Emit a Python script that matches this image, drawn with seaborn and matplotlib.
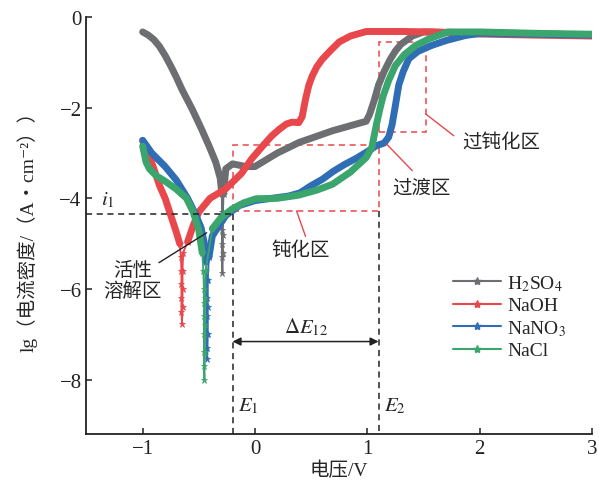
import numpy as np
import matplotlib
matplotlib.use('Agg')
import matplotlib.pyplot as plt
import seaborn as sns
from matplotlib.lines import Line2D
from matplotlib.patches import Rectangle

# polarization curves, potential (V) and lg(current density)
h2so4_v = [-1.0, -0.95, -0.9, -0.85, -0.8, -0.75, -0.7, -0.65, -0.56, -0.48, -0.41, -0.35, -0.31, -0.295,
           -0.295, -0.295, -0.295, -0.295, -0.29, -0.285, -0.285, -0.285, -0.28, -0.26, -0.2,
           -0.08, 0.0, 0.1, 0.2, 0.3, 0.39, 0.69, 0.99, 1.02, 1.06, 1.1, 1.15, 1.2, 1.25,
           1.3, 1.4, 1.5, 2.0, 2.5, 3.0]
h2so4_lg = [-0.33, -0.4, -0.5, -0.65, -0.85, -1.08, -1.33, -1.6, -2.03, -2.45, -2.84, -3.2, -3.55, -3.9,
            -4.3, -4.7, -5.0, -5.3, -5.65, -5.2, -4.8, -4.3, -3.9, -3.35, -3.24,
            -3.3, -3.3, -3.15, -3.0, -2.88, -2.77, -2.51, -2.3, -2.15, -1.85, -1.5, -1.2, -0.95, -0.75,
            -0.6, -0.42, -0.33, -0.35, -0.37, -0.4]

naoh_v = [-1.0, -0.95, -0.9, -0.85, -0.8, -0.74, -0.7, -0.67, -0.66, -0.655, -0.655, -0.655,
          -0.655, -0.65, -0.645, -0.645, -0.645, -0.64, -0.6, -0.55, -0.5, -0.4, -0.26, -0.12,
          -0.03, 0.06, 0.15, 0.22, 0.28, 0.33, 0.39, 0.42, 0.45, 0.48, 0.51, 0.55, 0.6, 0.68,
          0.75, 0.85, 0.99, 1.3, 1.58, 1.88, 2.5, 3.0]
naoh_lg = [-2.73, -3.0, -3.35, -3.72, -4.0, -4.45, -4.75, -5.0, -5.3, -5.6, -5.9, -6.2,
           -6.5, -6.77, -6.4, -6.0, -5.6, -5.2, -4.96, -4.6, -4.3, -4.0, -3.79, -3.45,
           -3.13, -2.87, -2.62, -2.47, -2.36, -2.32, -2.33, -2.2, -1.81, -1.5, -1.3, -1.1, -0.93, -0.72,
           -0.55, -0.42, -0.32, -0.32, -0.33, -0.37, -0.4, -0.42]

nano3_v = [-1.0, -0.92, -0.8, -0.7, -0.6, -0.53, -0.48, -0.45, -0.435, -0.43, -0.43, -0.43,
           -0.43, -0.43, -0.425, -0.42, -0.42, -0.42, -0.41, -0.38, -0.26, -0.14, 0.0, 0.15,
           0.3, 0.4, 0.5, 0.6, 0.7, 0.8, 0.9, 1.0, 1.08, 1.15, 1.19, 1.22, 1.25, 1.28, 1.32,
           1.37, 1.45, 1.57, 1.7, 1.87, 2.0, 2.5, 3.0]
nano3_lg = [-2.72, -3.0, -3.3, -3.6, -4.0, -4.35, -4.65, -5.0, -5.4, -5.8, -6.2, -6.6,
            -7.0, -7.3, -7.54, -7.0, -6.4, -5.8, -5.3, -4.83, -4.38, -4.16, -4.05, -4.0,
            -3.95, -3.88, -3.72, -3.58, -3.4, -3.25, -3.12, -2.97, -2.84, -2.78, -2.65, -2.38, -1.95, -1.5, -1.2,
            -0.92, -0.76, -0.63, -0.52, -0.41, -0.36, -0.38, -0.4]

nacl_v = [-1.0, -0.97, -0.94, -0.88, -0.79, -0.7, -0.61, -0.55, -0.5, -0.47, -0.46, -0.455,
          -0.455, -0.455, -0.455, -0.455, -0.455, -0.45, -0.445, -0.445, -0.445, -0.44, -0.38, -0.3,
          -0.2, -0.1, 0.01, 0.2, 0.39, 0.55, 0.69, 0.85, 0.99, 1.04, 1.08, 1.11, 1.14, 1.19,
          1.25, 1.33, 1.43, 1.55, 1.72, 2.0, 2.5, 3.0]
nacl_lg = [-2.85, -3.2, -3.35, -3.5, -3.64, -3.8, -4.0, -4.3, -4.7, -5.2, -5.6, -6.0,
           -6.3, -6.6, -7.0, -7.4, -7.7, -8.0, -7.4, -6.8, -6.2, -5.6, -4.67, -4.42,
           -4.23, -4.1, -4.01, -4.0, -3.93, -3.82, -3.69, -3.42, -3.1, -2.88, -2.38, -2.05, -1.75, -1.4,
           -1.07, -0.83, -0.63, -0.48, -0.33, -0.33, -0.36, -0.38]

labels = ['H$_2$SO$_4$', 'NaOH', 'NaNO$_3$', 'NaCl']
colors = ['#6d6e71', '#e8474c', '#2f6db5', '#3aa66e']
spike_cut = [-4.0, -5.1, -5.5, -5.5]

sns.set_theme(style='ticks')
plt.rcParams['font.family'] = ['Liberation Serif', 'Noto Sans CJK SC', 'DejaVu Serif']
plt.rcParams['mathtext.fontset'] = 'stix'
plt.rcParams['axes.unicode_minus'] = True

fig = plt.figure(figsize=(5.99, 4.81), dpi=100)
ax = fig.add_axes([0.1444, 0.0956, 0.8439, 0.867])

all_v = [h2so4_v, naoh_v, nano3_v, nacl_v]
all_lg = [h2so4_lg, naoh_lg, nano3_lg, nacl_lg]
for v, lg, c, cut in zip(all_v, all_lg, colors, spike_cut):
    v = np.array(v)
    lg = np.array(lg)
    deep = np.where(lg < cut)[0]
    i0, i1 = deep[0], deep[-1]
    sns.lineplot(x=v, y=lg, sort=False, estimator=None, color=c, lw=1.3,
                 marker='*', ms=5, mec=c, mew=0.5, markevery=list(range(i0 - 1, i1 + 2)), ax=ax)
    sns.lineplot(x=v[:i0], y=lg[:i0], sort=False, estimator=None, color=c, lw=5,
                 solid_capstyle='round', solid_joinstyle='round', ax=ax)
    sns.lineplot(x=v[i1 + 1:], y=lg[i1 + 1:], sort=False, estimator=None, color=c, lw=5,
                 solid_capstyle='round', solid_joinstyle='round', ax=ax)

# guide lines
E1, E2, i1 = -0.2, 1.1, -4.34
ax.plot([-1.5, E1], [i1, i1], color='#222222', ls=(0, (4, 3)), lw=1.1)
ax.plot([E1, E1], [i1, -9.2], color='#222222', ls=(0, (4, 3)), lw=1.1)
ax.plot([E2, E2], [-4.28, -9.2], color='#222222', ls=(0, (4, 3)), lw=1.1)
red = '#e8474c'
ax.add_patch(Rectangle((E1, -4.28), E2 - E1, 1.46, fill=False, ec=red, ls=(0, (4, 3)), lw=1.1))
ax.add_patch(Rectangle((E2, -2.53), 0.42, 1.98, fill=False, ec=red, ls=(0, (4, 3)), lw=1.1))

ax.annotate('', xy=(E1, -7.16), xytext=(E2, -7.16),
            arrowprops=dict(arrowstyle='<|-|>', color='#222222', lw=1.1, shrinkA=0, shrinkB=0,
                            mutation_scale=12))
ax.text(0.45, -6.83, r'$\Delta E_{12}$', fontsize=15, ha='center', va='center')
ax.text(-0.15, -8.57, r'$E_1$', fontsize=15, ha='left', va='center')
ax.text(1.15, -8.57, r'$E_2$', fontsize=15, ha='left', va='center')
ax.text(-1.31, -4.03, r'$i_1$', fontsize=15, ha='center', va='center')

ax.plot([-0.855, -0.43], [-5.42, -4.76], color='#222222', lw=1)
ax.text(-1.09, -5.82, '活性\n溶解区', fontsize=14, ha='center', va='center', linespacing=1.15)
ax.plot([0.37, 0.45], [-4.28, -4.84], color=red, lw=1)
ax.text(0.41, -5.13, '钝化区', fontsize=14, ha='center', va='center')
ax.plot([1.17, 1.4], [-2.8, -3.39], color=red, lw=1)
ax.text(1.48, -3.77, '过渡区', fontsize=14, ha='center', va='center')
ax.plot([1.52, 1.77], [-2.14, -2.62], color=red, lw=1)
ax.text(2.19, -2.75, '过钝化区', fontsize=14, ha='center', va='center')

handles = [Line2D([], [], color=c, lw=1.5, marker='*', ms=6) for c in colors]
ax.legend(handles, labels, loc='upper left', bbox_to_anchor=(0.756, 0.43),
          bbox_transform=fig.transFigure, frameon=False, fontsize=14,
          borderpad=0, borderaxespad=0, handlelength=2.5, handletextpad=0.3,
          labelspacing=0.2)

ax.set_xlim(-1.5, 3)
ax.set_ylim(-9.2, 0)
ax.set_xticks([-1, 0, 1, 2, 3])
ax.set_yticks([0, -2, -4, -6, -8])
ax.tick_params(direction='in', length=4, width=1.1, labelsize=15, colors='#222222')
for s in ['left', 'bottom']:
    ax.spines[s].set_linewidth(1.3)
    ax.spines[s].set_color('#222222')
sns.despine(ax=ax)
ax.set_xlabel('电压/V', fontsize=14, labelpad=2)
ax.set_ylabel('lg（电流密度/（A・cm⁻²））', fontsize=14, labelpad=16)

fig.savefig('out.png', dpi=100)
